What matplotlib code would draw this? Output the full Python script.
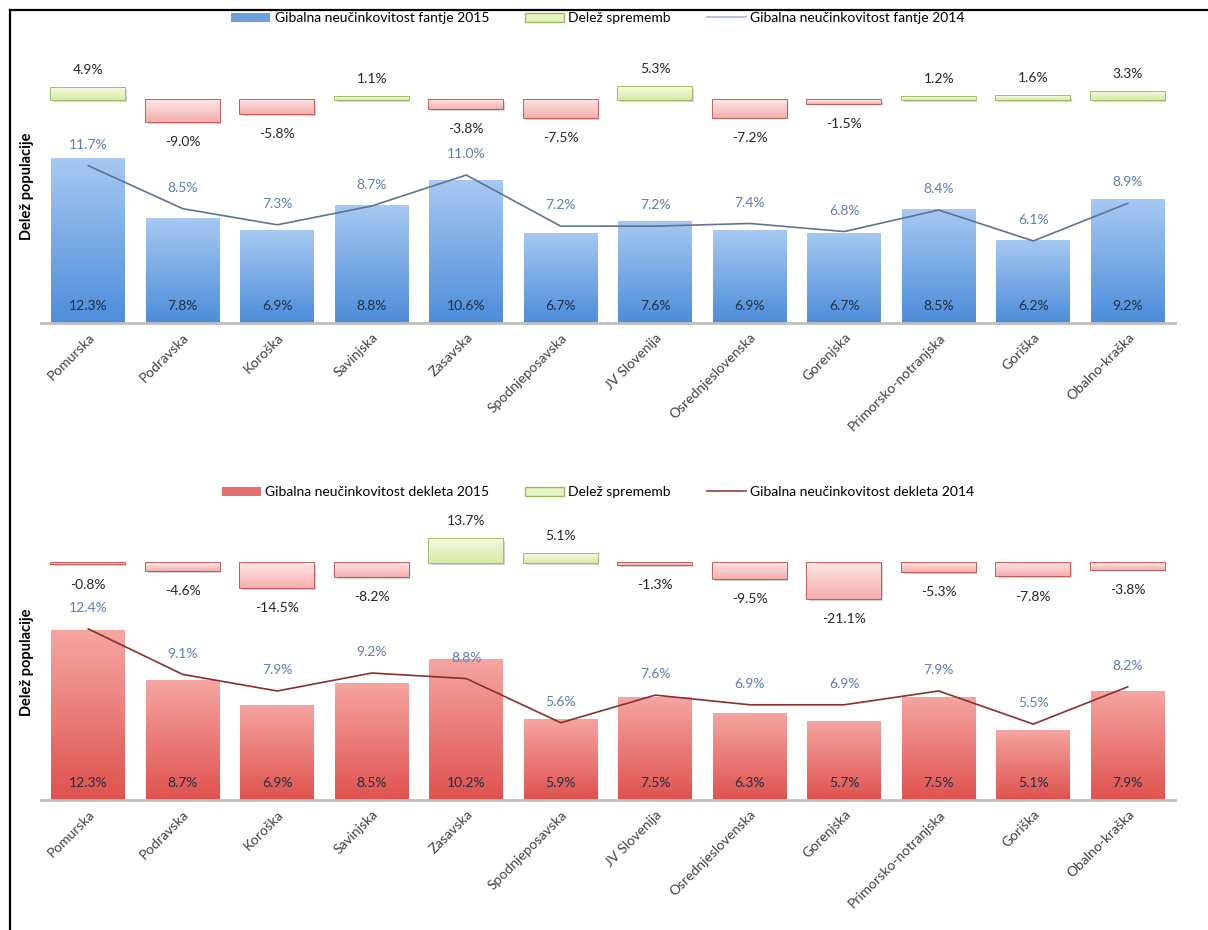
import numpy as np
import matplotlib
matplotlib.use("Agg")
import matplotlib.pyplot as plt
from matplotlib.colors import LinearSegmentedColormap
from matplotlib.patches import Patch
from matplotlib.lines import Line2D
import matplotlib.patheffects as pe

plt.rcParams['font.family'] = ['Lato', 'DejaVu Sans']

regions = ['Pomurska', 'Podravska', 'Koroška', 'Savinjska', 'Zasavska', 'Spodnjeposavska',
           'JV Slovenija', 'Osrednjeslovenska', 'Gorenjska', 'Primorsko-notranjska',
           'Goriška', 'Obalno-kraška']

fantje_2015 = [12.3, 7.8, 6.9, 8.8, 10.6, 6.7, 7.6, 6.9, 6.7, 8.5, 6.2, 9.2]
fantje_2014 = [11.7, 8.5, 7.3, 8.7, 11.0, 7.2, 7.2, 7.4, 6.8, 8.4, 6.1, 8.9]
fantje_change = [4.9, -9.0, -5.8, 1.1, -3.8, -7.5, 5.3, -7.2, -1.5, 1.2, 1.6, 3.3]

dekleta_2015 = [12.3, 8.7, 6.9, 8.5, 10.2, 5.9, 7.5, 6.3, 5.7, 7.5, 5.1, 7.9]
dekleta_2014 = [12.4, 9.1, 7.9, 9.2, 8.8, 5.6, 7.6, 6.9, 6.9, 7.9, 5.5, 8.2]
dekleta_change = [-0.8, -4.6, -14.5, -8.2, 13.7, 5.1, -1.3, -9.5, -21.1, -5.3, -7.8, -3.8]

W, H = 1208, 930
fig = plt.figure(figsize=(W / 100, H / 100), dpi=100)


def px_axes(left, right, top, bottom):
    return fig.add_axes([left / W, 1 - bottom / H, (right - left) / W, (bottom - top) / H])


def gradient_fill(ax, bar, top_color, bottom_color):
    cmap = LinearSegmentedColormap.from_list('g', [bottom_color, top_color])
    grad = np.linspace(0, 1, 256).reshape(-1, 1)
    x0, y0 = bar.get_x(), bar.get_y()
    w, h = bar.get_width(), bar.get_height()
    lo, hi = min(y0, y0 + h), max(y0, y0 + h)
    im = ax.imshow(grad, extent=[x0, x0 + w, lo, hi], origin='lower', cmap=cmap,
                   aspect='auto', zorder=bar.get_zorder(), interpolation='bilinear')
    im.set_clip_path(bar)
    bar.set_facecolor('none')


def panel(top, bottom, change_zero, main_scale, change_scale, v2015, v2014, change,
          bar_top, bar_bottom, line_color, legend_labels, legend_color, legend_line):
    ax = px_axes(41, 1175, top, bottom)
    x = np.arange(len(regions))
    bars = ax.bar(x, v2015, width=0.78, color='none', zorder=2)
    for b in bars:
        gradient_fill(ax, b, bar_top, bar_bottom)
    ax.plot(x, v2014, color=line_color, lw=1.2, zorder=4)

    for xi, v in zip(x, v2015):
        ax.annotate(f"{v:.1f}%", (xi, 0), xytext=(0, 12.5), textcoords='offset points',
                    ha='center', va='center', fontsize=10, color='#1f2f45', zorder=5)
    for xi, v in zip(x, v2014):
        ax.annotate(f"{v:.1f}%", (xi, v), xytext=(0, 15), textcoords='offset points',
                    ha='center', va='center', fontsize=10, color='#5a7dbd', zorder=5)

    ax.set_xlim(-0.5, len(regions) - 0.5)
    ax.set_ylim(0, (bottom - top) / main_scale)
    ax.set_yticks([])
    for s in ['top', 'right', 'left']:
        ax.spines[s].set_visible(False)
    ax.spines['bottom'].set_color('#bfbfbf')
    ax.spines['bottom'].set_linewidth(2)
    ax.set_xticks(x)
    ax.set_xticklabels(regions, rotation=45, ha='right', rotation_mode='anchor',
                       fontsize=10, color='#404040')
    ax.tick_params(axis='x', length=0, pad=6)
    ax.set_ylabel('Delež populacije', fontsize=10.5, fontweight='bold', color='#000000')
    ax.yaxis.set_label_coords(-0.006, 0.5)

    # change bars on their own scale
    ax2 = ax.twinx()
    ax2.set_ylim(-(bottom - change_zero) / change_scale, (change_zero - top) / change_scale)
    ax2.set_yticks([])
    for s in ax2.spines.values():
        s.set_visible(False)
    edges = ['#9bbb59' if c > 0 else '#c0504d' for c in change]
    cbars = ax2.bar(x, change, width=0.78, color='none', edgecolor=edges, lw=1.3, zorder=3,
                    path_effects=[pe.SimplePatchShadow(offset=(1.2, -1.2), alpha=0.25), pe.Normal()])
    for b, c in zip(cbars, change):
        if c > 0:
            gradient_fill(ax2, b, '#f3f9de', '#d6eaa6')
        else:
            gradient_fill(ax2, b, '#fde6e5', '#f4aeac')
    for xi, c in zip(x, change):
        off = 13 if c > 0 else -14.5
        ax2.annotate(f"{c:.1f}%", (xi, c), xytext=(0, off), textcoords='offset points',
                     ha='center', va='center', fontsize=10, color='#262626')

    handles = [Patch(facecolor=legend_color),
               Patch(facecolor='#e6f3c6', edgecolor='#9bbb59'),
               Line2D([0], [0], color=legend_line, lw=1.2)]
    fig.legend(handles, legend_labels, loc='center', ncol=3, frameon=False, fontsize=10,
               bbox_to_anchor=(598 / W, 1 - (top - 32) / H), handlelength=2.8,
               handleheight=0.6, columnspacing=2.6, handletextpad=0.3)
    return ax


panel(50, 323, 100, 13.45, 2.44, fantje_2015, fantje_2014, fantje_change,
      '#a7c9f2', '#4d8dda', '#5f7398',
      ['Gibalna neučinkovitost fantje 2015', 'Delež sprememb', 'Gibalna neučinkovitost fantje 2014'],
      '#6a9fe2', '#a9b6d0')

panel(524, 800, 563, 13.8, 1.72, dekleta_2015, dekleta_2014, dekleta_change,
      '#f5a6a2', '#df524e', '#8b2f2f',
      ['Gibalna neučinkovitost dekleta 2015', 'Delež sprememb', 'Gibalna neučinkovitost dekleta 2014'],
      '#e2706c', '#9b3a3a')

# outer frame (left and top edges)
fig.add_artist(Line2D([10 / W, 10 / W], [0, 1 - 10 / H], color='black', lw=1.6))
fig.add_artist(Line2D([10 / W, 1], [1 - 10 / H, 1 - 10 / H], color='black', lw=1.6))

fig.savefig('out.png', dpi=100)
